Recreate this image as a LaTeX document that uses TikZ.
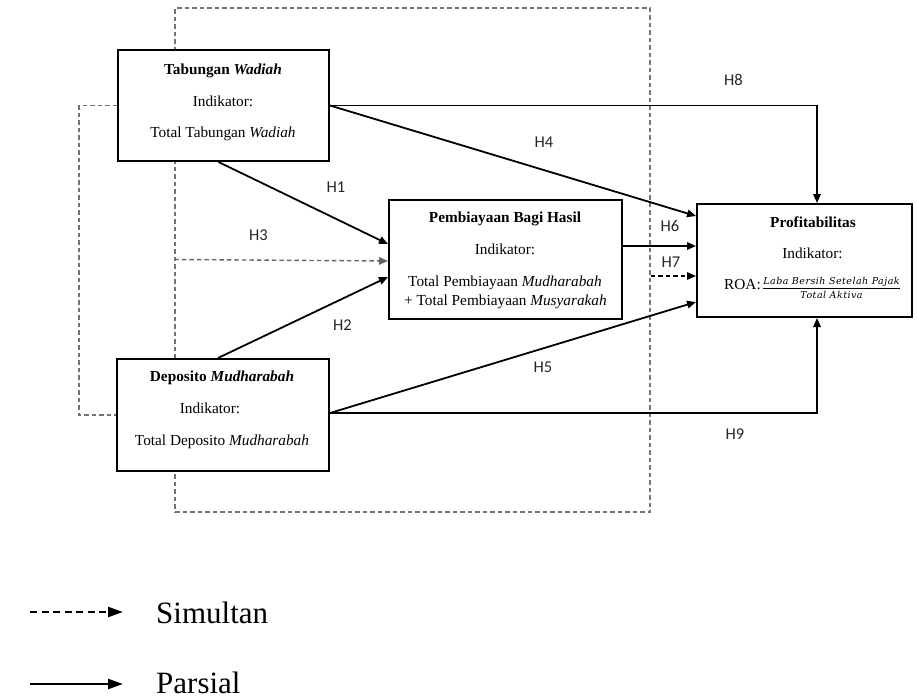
\documentclass[tikz,border=0pt]{standalone}
\usepackage{fontspec}
\setmainfont{Liberation Serif}
\newfontfamily\labfont{Carlito}
\newfontfamily\fracfont[LetterSpace=5]{DejaVu Serif}
\usetikzlibrary{arrows.meta,calc}
\begin{document}
\begin{tikzpicture}[x=1pt,y=-1pt,
  grpbox/.style={draw=black!55, line width=1.2pt, dash pattern=on 4.5pt off 3pt, minimum width=475pt, minimum height=504pt, inner sep=0pt},
  grpline/.style={draw=black!55, line width=1.2pt, dash pattern=on 4.5pt off 3pt},
  box/.style={draw, fill=white, line width=2pt, inner sep=0pt},
  txt/.style={font=\fontsize{15.3}{18}\selectfont, inner sep=0pt, anchor=base},
  hlab/.style={font=\labfont\fontsize{16.5}{19}\selectfont, text=black!85, inner sep=0pt, anchor=base},
  arr/.style={line width=1.8pt, -{Triangle[length=9pt,width=7.5pt]}},
  darr/.style={arr, line width=1.4pt, dash pattern=on 4.5pt off 3pt},
  legtxt/.style={font=\fontsize{31}{36}\selectfont, inner sep=0pt, anchor=base west},
  legarr/.style={line width=2.4pt, -{Triangle[length=15pt,width=10pt]}}
]
\useasboundingbox (0,0) rectangle (917,699);

% dashed group frame
\node[grpbox] (grp) at (412.5,260) {};

% boxes
\node[box, minimum width=211pt, minimum height=111pt] (tab) at (223.5,105.5) {};
\node[box, minimum width=212pt, minimum height=112pt] (dep) at (223,415) {};
\node[box, minimum width=233pt, minimum height=119pt] (pem) at (505.5,259.5) {};
\node[box, minimum width=215pt, minimum height=113pt] (pro) at (804.5,260.5) {};

% box texts
\node[txt] (tab1) at (223,74) {\textbf{Tabungan \textit{Wadiah}}};
\node[txt] (tab2) at (223,106) {Indikator:};
\node[txt] (tab3) at (223,137) {Total Tabungan \textit{Wadiah}};

\node[txt] (dep1) at (222,381) {\textbf{Deposito \textit{Mudharabah}}};
\node[txt] (dep2) at (210,413) {Indikator:};
\node[txt] (dep3) at (222,445) {Total Deposito \textit{Mudharabah}};

\node[txt] (pem1) at (505,222) {\textbf{Pembiayaan Bagi Hasil}};
\node[txt] (pem2) at (505,254) {Indikator:};
\node[txt] (pem3) at (505,286) {Total Pembiayaan \textit{Mudharabah}};
\node[txt] (pem4) at (505.5,305) {+ Total Pembiayaan \textit{Musyarakah}};

\node[txt] (pro1) at (813,227) {\textbf{Profitabilitas}};
\node[txt] (pro2) at (812.5,258) {Indikator:};
\node[txt, anchor=base west] (roa) at (724,289) {ROA:};
\node[inner sep=0pt, anchor=base, font=\fracfont\itshape\fontsize{9.5}{11}\selectfont] (num) at (831.5,284.5) {Laba Bersih Setelah Pajak};
\node[inner sep=0pt, anchor=base, font=\fracfont\itshape\fontsize{9.5}{11}\selectfont] (den) at (831.5,298) {Total Aktiva};
\draw[line width=0.9pt] (763,288) -- (900,288);

% left dashed bracket
\draw[grpline] (tab.west) -- ([xshift=-38pt]tab.west) |- (dep.west);

% connectors to Pembiayaan
\draw[arr] ([xshift=-5pt]tab.south) -- ([yshift=15.5pt]pem.west);
\draw[darr, draw=black!60] (grp.west |- pem.west) -- ([yshift=-1.5pt]pem.west);
\draw[arr] ([xshift=-5pt]dep.north) -- ([yshift=-17.5pt]pem.west);

% connectors to Profitabilitas
\coordinate (p8) at ([xshift=12.5pt]pro.north);
\coordinate (p9) at ([xshift=12.5pt]pro.south);
\draw[arr] (tab.east) -| (p8);
\draw[arr] (tab.east) -- ([yshift=44.5pt]pro.west);
\draw[arr] (pem.east |- 0,246) -- ([yshift=14.5pt]pro.west);
\draw[darr] (grp.east |- 0,276) -- ([yshift=-15.5pt]pro.west);
\draw[arr] ([yshift=2pt]dep.east) -- ([yshift=-41.5pt]pro.west);
\draw[arr] ([yshift=2pt]dep.east) -| (p9);

% labels
\node[hlab] (h1) at (336,192) {H1};
\node[hlab] (h2) at (342.5,330) {H2};
\node[hlab] (h3) at (258.5,240) {H3};
\node[hlab] (h4) at (544,147) {H4};
\node[hlab] (h5) at (543,372) {H5};
\node[hlab] (h6) at (670,231) {H6};
\node[hlab] (h7) at (671,267) {H7};
\node[hlab] (h8) at (733.5,85) {H8};
\node[hlab] (h9) at (735,439) {H9};

% legend
\coordinate (ls1) at (30,612);
\coordinate (ls2) at (123,612);
\coordinate (lp1) at (30,684);
\coordinate (lp2) at (123,684);
\draw[legarr, dash pattern=on 7pt off 4.5pt] (ls1) -- (ls2);
\draw[legarr] (lp1) -- (lp2);
\node[legtxt] (sim) at (156,623) {Simultan};
\node[legtxt] (par) at (156,693) {Parsial};
\end{tikzpicture}
\end{document}
